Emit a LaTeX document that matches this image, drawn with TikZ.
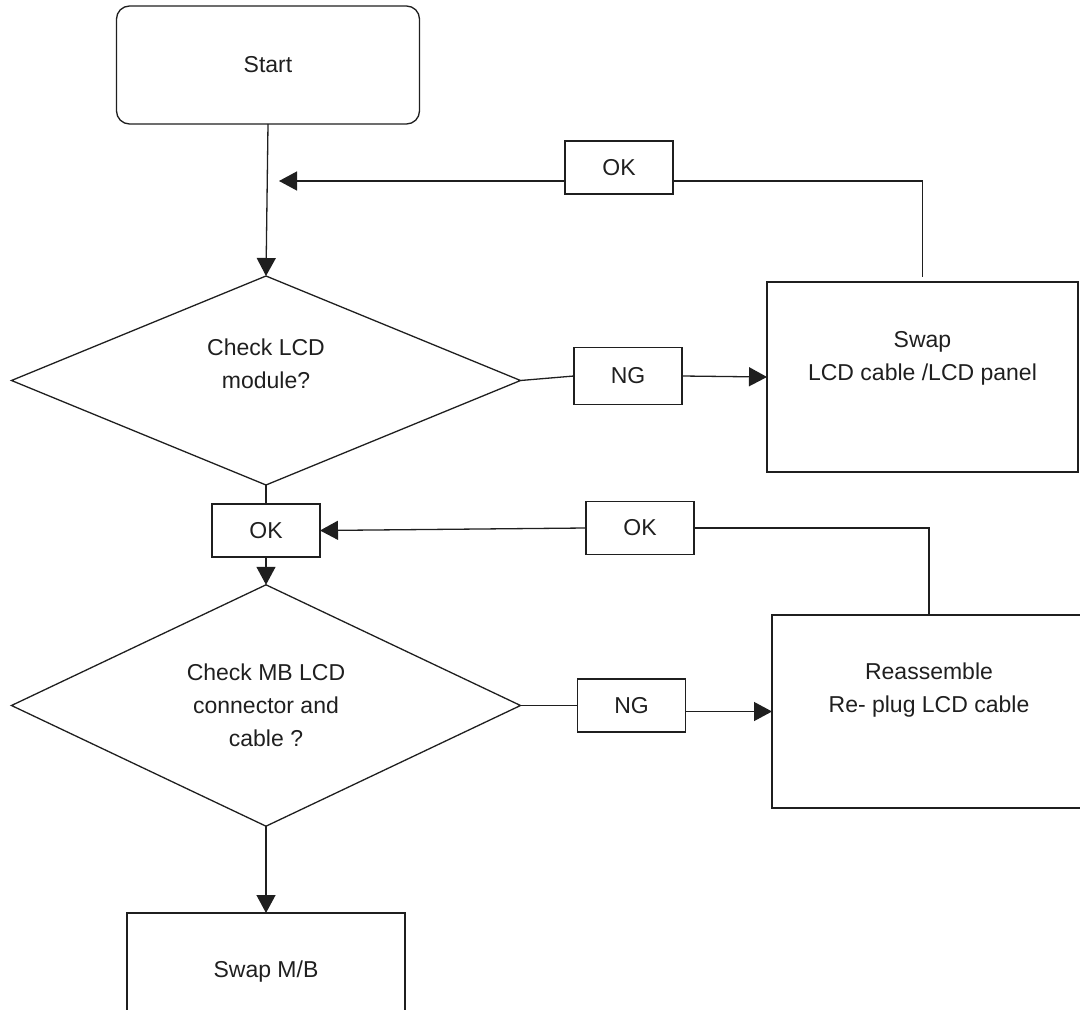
\documentclass[tikz,border=0pt]{standalone}
\usepackage{fontspec}
\setmainfont{Liberation Sans}
\usetikzlibrary{positioning,arrows.meta,shapes.geometric}

\begin{document}
\begin{tikzpicture}[x=0.5pt,y=-0.5pt,line width=0.65pt,draw=black!88,
  txt/.style={align=center,font=\fontsize{11.5}{16.5}\selectfont,text=black!88},
  b/.style={draw,txt,outer sep=0pt,inner sep=0pt,minimum width=155.5pt,minimum height=95pt},
  sb/.style={draw,txt,outer sep=0pt,inner sep=0pt,minimum width=54pt,minimum height=26.5pt},
  dia/.style={draw,txt,diamond,outer sep=0pt,inner sep=0pt,minimum width=254.5pt,minimum height=104.5pt},
  a/.style={-{Triangle[length=9pt,width=9.5pt]}}]
\clip (0,0) rectangle (1080,1010);
\node[b,rounded corners=6.5pt,minimum width=151.5pt,minimum height=59pt](start) at (268,65){Start};
\node[dia,label={[txt,name=chk1t,yshift=8.5pt]center:Check LCD\\module?}](chk1) at (266,380.5){};
\node[sb](ok1) at (619,167.5){OK};
\node[sb,minimum height=28.5pt](ng1) at (628,376){NG};
\node[b](swap1) at (922.5,377){};
\node[txt](swap1t) at (922.5,358){Swap\\LCD cable /LCD panel};
\node[sb](ok2) at (266,530.5){OK};
\node[sb](ok3) at (640,528){OK};
\node[dia](chk2) at (266,705.5){Check MB LCD\\connector and\\cable ?};
\node[sb](ng2) at (631.5,705.5){NG};
\node[b,minimum width=157pt,minimum height=96.5pt](reas) at (929,711.5){};
\node[txt](reast) at (929,690){Reassemble\\Re- plug LCD cable};
\node[b,minimum width=139pt,minimum height=59pt](mb) at (266,972){Swap M/B};
\coordinate (r1) at ([yshift=2.5pt]swap1.north);
\coordinate (m1) at (279,181);
\draw[a](start.south)--(chk1.north);
\draw(r1)|-([yshift=-6.75pt]ok1.east);\draw[a]([yshift=-6.75pt]ok1.west)--(m1);
\draw(chk1.east)--(ng1.west);\draw[a](ng1.east)--(swap1.west);
\draw(chk1.south)--(ok2.north);\draw[a](ok2.south)--(chk2.north);
\draw(reas.north)|-(ok3.east);\draw[a](ok3.west)--(ok2.east);
\draw(chk2.east)--(ng2.west);\draw[a]([yshift=-3pt]ng2.east)--(reas.west);
\draw[a](chk2.south)--(mb.north);
\end{tikzpicture}
\end{document}
